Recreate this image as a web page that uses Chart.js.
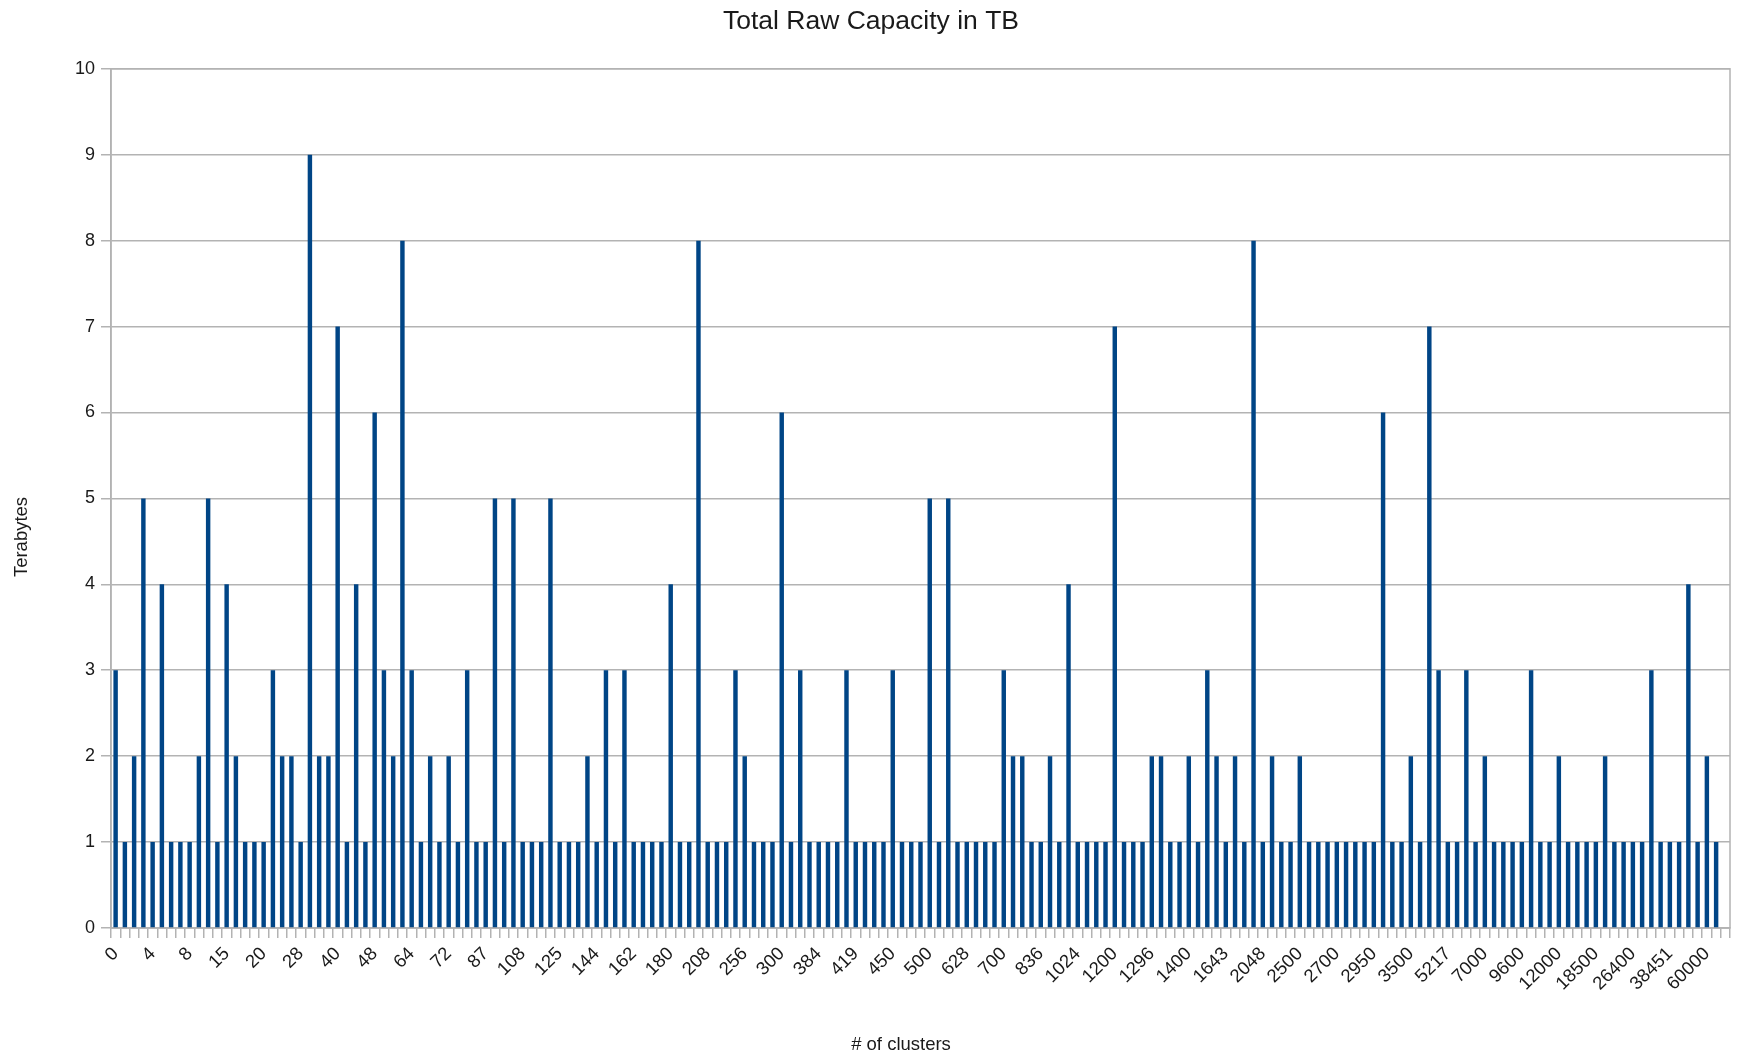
<!DOCTYPE html>
<html>
<head>
<meta charset="utf-8">
<script src="https://cdn.jsdelivr.net/npm/chart.js@4"></script>
<style>
  html, body { margin: 0; padding: 0; background: #fff; }
  #wrap { width: 1741px; height: 1062px; }
</style>
</head>
<body>
<div id="wrap"><canvas id="capChart" width="1741" height="1062"></canvas></div>
<script>
// labels shown under every 4th bar
const tickLabels = ['0', '4', '8', '15', '20', '28', '40', '48', '64', '72', '87', '108', '125', '144', '162',
  '180', '208', '256', '300', '384', '419', '450', '500', '628', '700', '836', '1024', '1200', '1296', '1400',
  '1643', '2048', '2500', '2700', '2950', '3500', '5217', '7000', '9600', '12000', '18500', '26400', '38451', '60000'];

// terabytes per bar (last category is empty)
const capacity = [
  3, 1, 2, 5, 1, 4, 1, 1, 1, 2,
  5, 1, 4, 2, 1, 1, 1, 3, 2, 2,
  1, 9, 2, 2, 7, 1, 4, 1, 6, 3,
  2, 8, 3, 1, 2, 1, 2, 1, 3, 1,
  1, 5, 1, 5, 1, 1, 1, 5, 1, 1,
  1, 2, 1, 3, 1, 3, 1, 1, 1, 1,
  4, 1, 1, 8, 1, 1, 1, 3, 2, 1,
  1, 1, 6, 1, 3, 1, 1, 1, 1, 3,
  1, 1, 1, 1, 3, 1, 1, 1, 5, 1,
  5, 1, 1, 1, 1, 1, 3, 2, 2, 1,
  1, 2, 1, 4, 1, 1, 1, 1, 7, 1,
  1, 1, 2, 2, 1, 1, 2, 1, 3, 2,
  1, 2, 1, 8, 1, 2, 1, 1, 2, 1,
  1, 1, 1, 1, 1, 1, 1, 6, 1, 1,
  2, 1, 7, 3, 1, 1, 3, 1, 2, 1,
  1, 1, 1, 3, 1, 1, 2, 1, 1, 1,
  1, 2, 1, 1, 1, 1, 3, 1, 1, 1,
  4, 1, 2, 1, null
];

const xTitle = '# of clusters';
const yTitle = 'Terabytes';

const labelEvery = 4;
const categories = capacity.map((v, i) => i % labelEvery === 0 ? (tickLabels[i / labelEvery] || '') : '');

const gridGray = '#b3b3b3';
const textColor = '#1a1a1a';
const fontFamily = '"Liberation Sans", Arial, sans-serif';

// plot frame + axis titles placed like the original
const frame = {
  id: 'frame',
  beforeDatasetsDraw(chart) {
    const a = chart.chartArea;
    const ctx = chart.ctx;
    ctx.save();
    ctx.strokeStyle = gridGray;
    ctx.lineWidth = 1.5;
    ctx.strokeRect(a.left, a.top, a.right - a.left, a.bottom - a.top);
    ctx.restore();
  },
  afterDraw(chart) {
    const ctx = chart.ctx;
    ctx.save();
    ctx.fillStyle = textColor;
    ctx.font = '18.5px ' + fontFamily;
    ctx.textAlign = 'center';
    ctx.textBaseline = 'middle';
    ctx.fillText(xTitle, 901, 1045);
    ctx.translate(22, 537);
    ctx.rotate(-Math.PI / 2);
    ctx.fillText(yTitle, 0, 0);
    ctx.restore();
  }
};

new Chart(document.getElementById('capChart'), {
  type: 'bar',
  data: {
    labels: categories,
    datasets: [{
      data: capacity,
      backgroundColor: '#004586',
      categoryPercentage: 1,
      barPercentage: 0.48
    }]
  },
  options: {
    responsive: false,
    animation: false,
    layout: { padding: { left: 12, right: 11, top: 0, bottom: 0 } },
    plugins: {
      legend: { display: false },
      tooltip: { enabled: false },
      title: {
        display: true,
        text: 'Total Raw Capacity in TB',
        color: textColor,
        font: { family: fontFamily, size: 26.5, weight: 'normal' },
        padding: { top: 6, bottom: 31 }
      }
    },
    scales: {
      x: {
        afterFit(scale) {
          scale.height = 134;
          scale.paddingRight = 0;
        },
        grid: { drawOnChartArea: false, drawTicks: true, tickLength: 10, color: gridGray, lineWidth: 1.5 },
        border: { color: gridGray, width: 1.5 },
        ticks: {
          autoSkip: false,
          minRotation: 45,
          maxRotation: 45,
          padding: 5,
          color: textColor,
          font: { family: fontFamily, size: 18.5 }
        }
      },
      y: {
        min: 0,
        max: 10,
        afterFit(scale) { scale.width = 99; },
        grid: { color: gridGray, lineWidth: 1.5, tickLength: 10 },
        border: { color: gridGray, width: 1.5 },
        ticks: {
          stepSize: 1,
          padding: 6,
          color: textColor,
          font: { family: fontFamily, size: 18 }
        }
      }
    }
  },
  plugins: [frame]
});
</script>
</body>
</html>
